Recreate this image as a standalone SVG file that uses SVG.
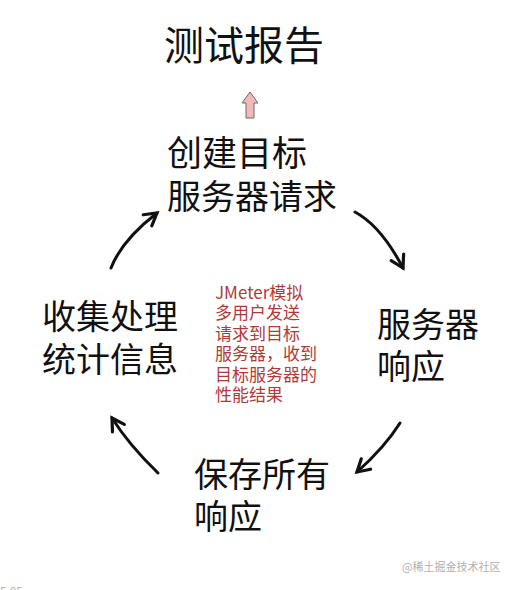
<svg xmlns="http://www.w3.org/2000/svg" width="514" height="590" viewBox="0 0 514 590">
<defs>
<style>
.t{font-family:"Noto Sans CJK SC","Noto Sans",sans-serif;fill:#111;}
.big{font-size:34px;}
.red{font-family:"Noto Sans CJK SC","Noto Sans",sans-serif;font-size:17px;fill:#b03a3a;}
.wm{font-family:"Noto Sans CJK SC","Noto Sans",sans-serif;font-size:11px;fill:#b0b0b0;}
.arr{fill:none;stroke:#111;stroke-width:3;stroke-linecap:round;}
</style>
<marker id="head" markerUnits="userSpaceOnUse" markerWidth="30" markerHeight="30" viewBox="-20 -15 30 30" refX="0" refY="0" orient="auto">
<path d="M-12,-7 L0,0 L-12,7" fill="none" stroke="#111" stroke-width="3.2" stroke-linecap="round" stroke-linejoin="miter"/>
</marker>
</defs>
<rect width="514" height="590" fill="#fff"/>
<g id="title">
<text class="t" x="164" y="60" font-size="40">测试报告</text>
</g>
<g id="up-arrow">
<polygon points="250,92 242,103 246,103 246,118 254,118 254,103 258,103" fill="#f2b9b9" stroke="#6a6a6a" stroke-width="1"/>
</g>
<g id="node-create">
<text class="t" x="167" y="166" font-size="35">创建目标</text>
<text class="t big" x="167" y="209">服务器请求</text>
</g>
<g id="node-response">
<text class="t big" x="377" y="337">服务器</text>
<text class="t big" x="377" y="379">响应</text>
</g>
<g id="node-save">
<text class="t big" x="194" y="487">保存所有</text>
<text class="t big" x="194" y="529">响应</text>
</g>
<g id="node-collect">
<text class="t big" x="42" y="329">收集处理</text>
<text class="t big" x="42" y="372">统计信息</text>
</g>
<g id="center-note">
<text class="red" x="215" y="299">JMeter模拟<tspan x="215" dy="20.4">多用户发送</tspan><tspan x="215" dy="20.4">请求到目标</tspan><tspan x="215" dy="20.4">服务器，收到</tspan><tspan x="215" dy="20.4">目标服务器的</tspan><tspan x="215" dy="20.4">性能结果</tspan></text>
</g>
<g id="connectors">
<path class="arr" d="M355,212 Q381,226 403,268" marker-end="url(#head)"/>
<path class="arr" d="M400,423 Q385,447 357,472" marker-end="url(#head)"/>
<path class="arr" d="M158,473 Q129,445 112,418" marker-end="url(#head)"/>
<path class="arr" d="M111,268 Q122,240 157,213" marker-end="url(#head)"/>
</g>
<g id="watermark">
<text class="wm" x="402" y="571">@稀土掘金技术社区</text>
<text class="wm" x="-6" y="595" font-size="12">05-05</text>
</g>
</svg>
